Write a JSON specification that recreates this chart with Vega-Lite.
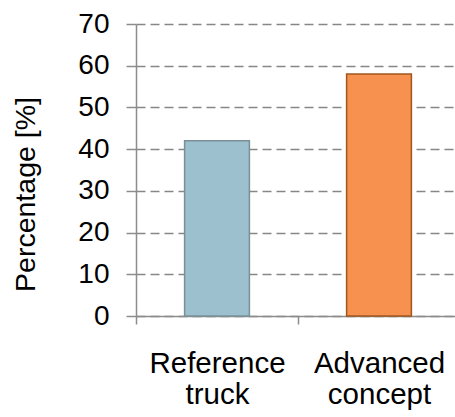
{
  "$schema": "https://vega.github.io/schema/vega-lite/v6.json",
  "autosize": "none",
  "width": 319,
  "height": 292,
  "padding": {"left": 136, "top": 24, "right": 0, "bottom": 101},
  "background": "white",
  "data": {
    "values": [
      {"case": "Reference truck", "value": 42},
      {"case": "Advanced concept", "value": 58}
    ]
  },
  "mark": {"type": "bar", "strokeWidth": 1.5, "width": {"band": 0.4}},
  "encoding": {
    "x": {
      "field": "case",
      "type": "nominal",
      "sort": null,
      "scale": {"range": [0, 324], "paddingInner": 0, "paddingOuter": 0},
      "axis": {
        "title": null,
        "labelAngle": 0,
        "tickBand": "extent",
        "tickSize": 8,
        "labelPadding": 25,
        "labelExpr": "split(datum.label, ' ')",
        "labelLineHeight": 31,
        "labelFontSize": 29.5,
        "labelColor": "#000000",
        "labelFont": "Liberation Sans",
        "domainColor": "#8c8c8c",
        "domainWidth": 1.5,
        "tickColor": "#8c8c8c",
        "tickWidth": 1.5,
        "grid": false
      }
    },
    "y": {
      "field": "value",
      "type": "quantitative",
      "scale": {"domain": [0, 70], "nice": false},
      "axis": {
        "title": "Percentage [%]",
        "values": [0, 10, 20, 30, 40, 50, 60, 70],
        "tickSize": 10,
        "labelPadding": 17,
        "labelFontSize": 28,
        "labelColor": "#000000",
        "labelFont": "Liberation Sans",
        "titleFont": "Liberation Sans",
        "titleFontSize": 28.5,
        "titleFontWeight": "normal",
        "titleColor": "#000000",
        "titleX": -102,
        "titleY": 170,
        "titleAngle": 270,
        "titleAlign": "center",
        "titleBaseline": "alphabetic",
        "domainColor": "#8c8c8c",
        "domainWidth": 1.5,
        "tickColor": "#8c8c8c",
        "tickWidth": 1.5,
        "grid": true,
        "gridColor": "#878787",
        "gridWidth": 1.3,
        "gridDash": [9, 5]
      }
    },
    "fill": {
      "field": "case",
      "type": "nominal",
      "legend": null,
      "scale": {"domain": ["Reference truck", "Advanced concept"], "range": ["#9cc0ce", "#f79150"]}
    },
    "stroke": {
      "field": "case",
      "type": "nominal",
      "legend": null,
      "scale": {"domain": ["Reference truck", "Advanced concept"], "range": ["#7a9099", "#a0571e"]}
    }
  },
  "config": {"view": {"stroke": null}}
}
